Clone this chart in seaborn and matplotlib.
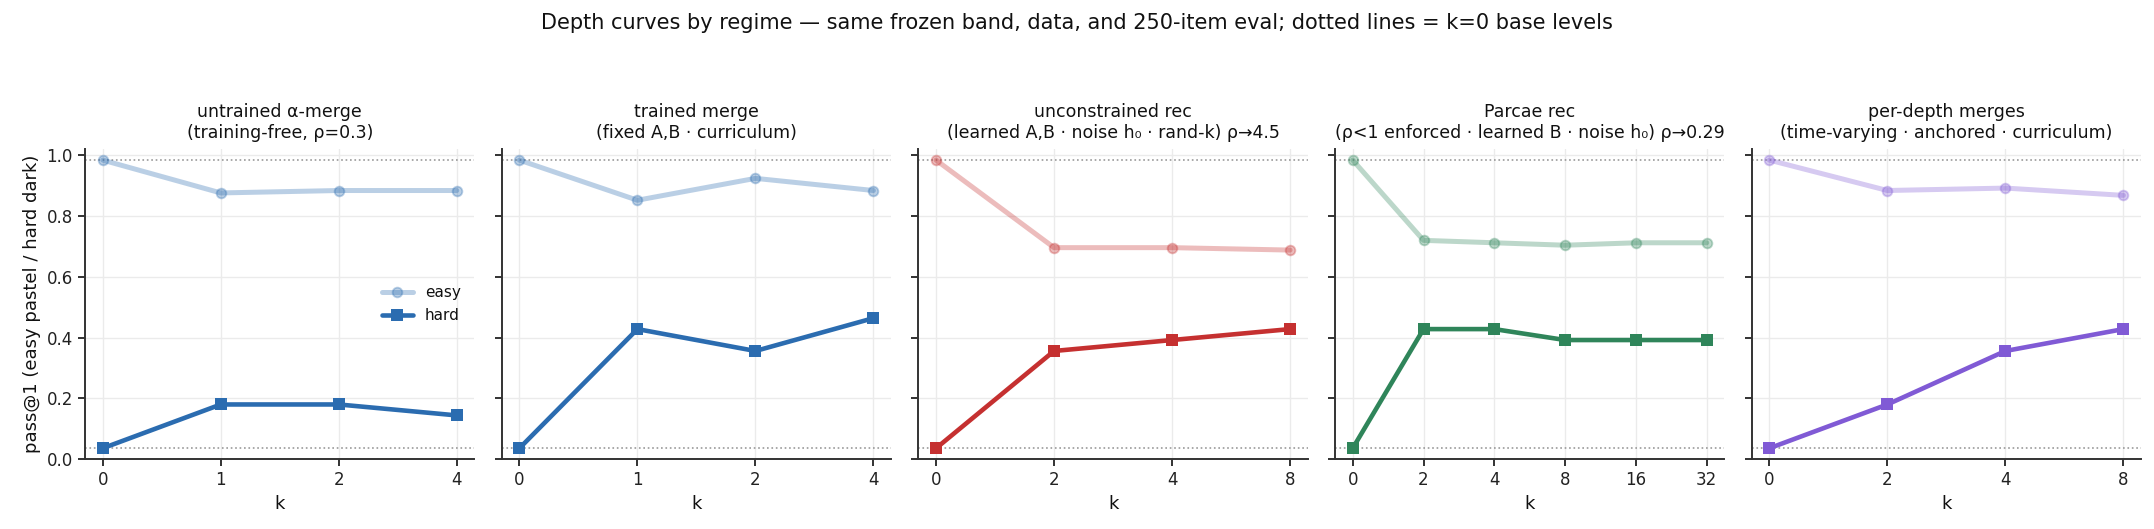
import numpy as np
import pandas as pd
import matplotlib
matplotlib.use("Agg")
import matplotlib.pyplot as plt
import seaborn as sns

# ---- data ----
titles = [
    "untrained α-merge\n(training-free, ρ=0.3)",
    "trained merge\n(fixed A,B · curriculum)",
    "unconstrained rec\n(learned A,B · noise h₀ · rand-k) ρ→4.5",
    "Parcae rec\n(ρ<1 enforced · learned B · noise h₀) ρ→0.29",
    "per-depth merges\n(time-varying · anchored · curriculum)",
]
k_labels = [
    ["0", "1", "2", "4"],
    ["0", "1", "2", "4"],
    ["0", "2", "4", "8"],
    ["0", "2", "4", "8", "16", "32"],
    ["0", "2", "4", "8"],
]
easy_vals = [
    [0.984, 0.876, 0.884, 0.884],
    [0.984, 0.852, 0.924, 0.884],
    [0.984, 0.696, 0.696, 0.688],
    [0.984, 0.720, 0.712, 0.704, 0.712, 0.712],
    [0.984, 0.884, 0.892, 0.868],
]
hard_vals = [
    [0.036, 0.180, 0.180, 0.144],
    [0.036, 0.428, 0.356, 0.464],
    [0.036, 0.356, 0.392, 0.428],
    [0.036, 0.428, 0.428, 0.392, 0.392, 0.392],
    [0.036, 0.180, 0.356, 0.428],
]
easy_base = 0.984
hard_base = 0.036
colors = ["#2B6CB0", "#2B6CB0", "#C53030", "#2F855A", "#805AD5"]

suptitle = ("Depth curves by regime — same frozen band, data, and 250-item eval; "
            "dotted lines = k=0 base levels")

# ---- style ----
sns.set_theme(style="whitegrid")
plt.rcParams.update({
    "font.family": ["DejaVu Sans"],
    "axes.edgecolor": "#333333",
    "axes.linewidth": 1.4,
    "grid.color": "#ebebeb",
    "grid.linewidth": 1.0,
    "xtick.bottom": True,
    "ytick.left": True,
    "xtick.major.size": 4.8,
    "ytick.major.size": 4.8,
    "xtick.major.width": 1.3,
    "ytick.major.width": 1.3,
    "xtick.major.pad": 4,
    "ytick.major.pad": 4,
    "xtick.color": "#222222",
    "ytick.color": "#222222",
    "xtick.labelsize": 12,
    "ytick.labelsize": 12,
    "axes.titlesize": 12.5,
    "axes.labelsize": 13,
    "legend.fontsize": 11,
    "text.color": "#111111",
    "axes.labelcolor": "#111111",
})

fig, axes = plt.subplots(1, 5, figsize=(21.54, 5.29), dpi=100, sharey=True)
fig.subplots_adjust(left=0.0395, right=0.994, bottom=0.132, top=0.718, wspace=0.07)

for i, ax in enumerate(axes):
    labs = k_labels[i]
    pos = np.arange(len(labs))
    df = pd.DataFrame({
        "pos": np.concatenate([pos, pos]),
        "val": np.concatenate([easy_vals[i], hard_vals[i]]),
        "split": ["easy"] * len(labs) + ["hard"] * len(labs),
    })
    c = colors[i]
    sns.lineplot(data=df[df.split == "easy"], x="pos", y="val", ax=ax,
                 color=c, alpha=0.32, lw=3.6, marker="o", markersize=7,
                 markeredgewidth=1.3, markeredgecolor=c, label="easy")
    sns.lineplot(data=df[df.split == "hard"], x="pos", y="val", ax=ax,
                 color=c, lw=3.3, marker="s", markersize=9,
                 markeredgewidth=0, label="hard")
    ax.axhline(easy_base, color="#999999", ls=":", lw=1.2, zorder=1)
    ax.axhline(hard_base, color="#999999", ls=":", lw=1.2, zorder=1)
    ax.set_xticks(pos, labs)
    ax.set_ylim(0, 1.02)
    ax.set_yticks([0, 0.2, 0.4, 0.6, 0.8, 1.0])
    ax.set_title(titles[i], pad=8)
    ax.set_xlabel("k")
    ax.set_ylabel("pass@1 (easy pastel / hard dark)" if i == 0 else "")
    ax.grid(True, axis="both")
    sns.despine(ax=ax)
    if i == 0:
        ax.legend(loc="center right", frameon=False)
    else:
        lg = ax.get_legend()
        if lg is not None:
            lg.remove()

fig.suptitle(suptitle, fontsize=15, y=0.975)
fig.savefig("out.png", dpi=100)
